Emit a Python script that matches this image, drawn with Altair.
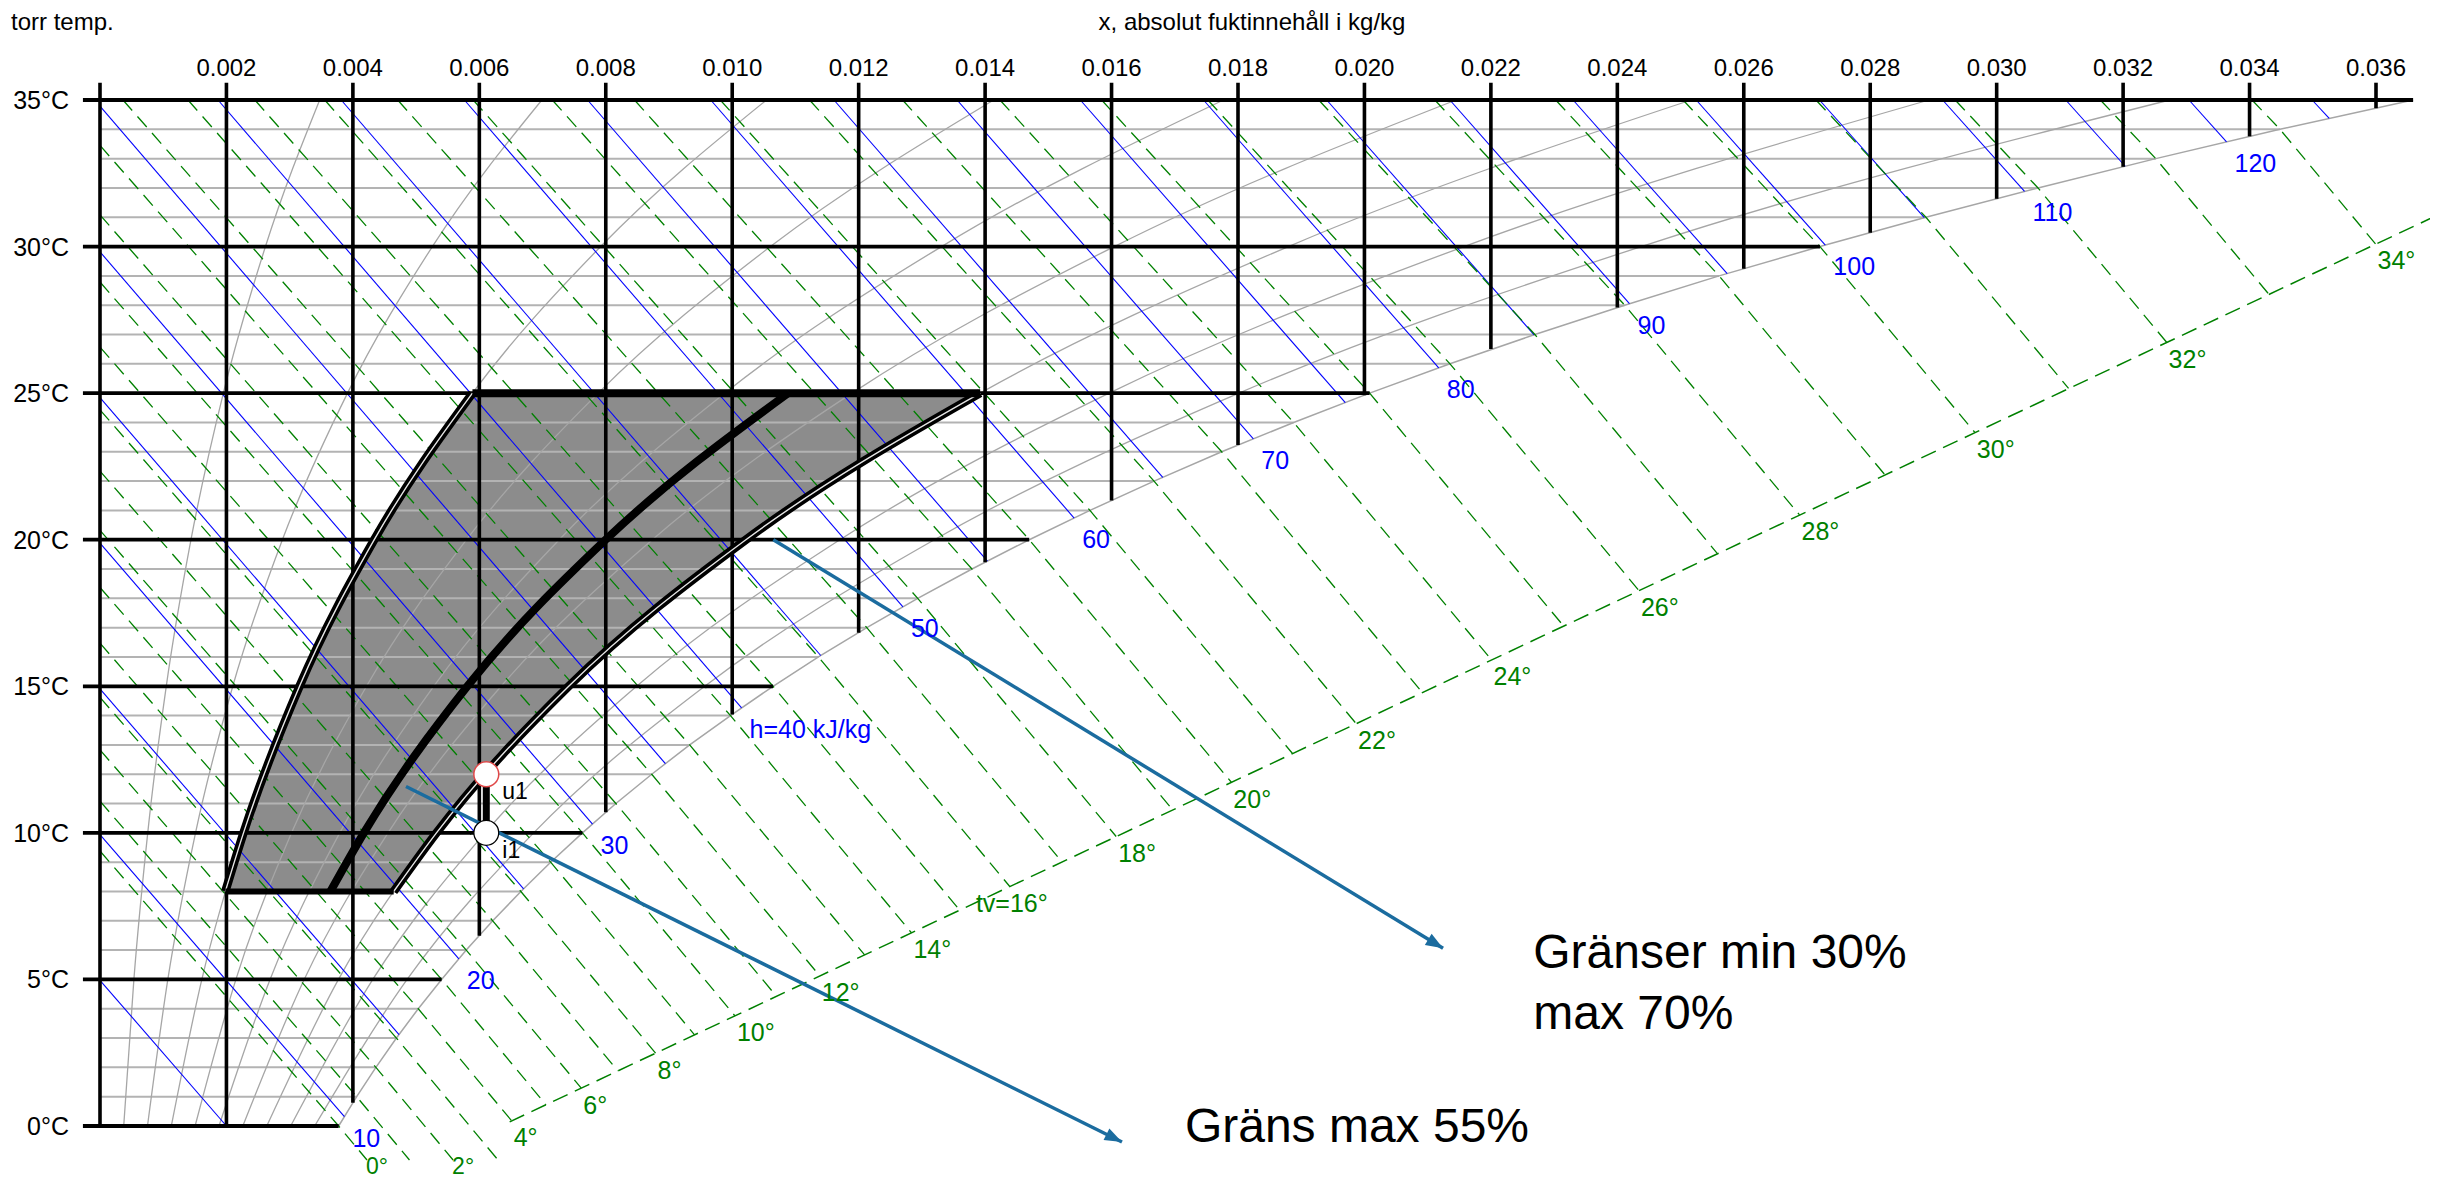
import math
import pandas as pd
import altair as alt

# ------------------------------------------------------------------ data
# saturation line: absolute humidity x (kg/kg) at each dry-bulb temperature
T_SAT = list(range(36))
X_SAT = [0.003775, 0.004060, 0.004364, 0.004689, 0.005034, 0.005403, 0.005793, 0.006212,
         0.006657, 0.007128, 0.007631, 0.008160, 0.008727, 0.009327, 0.009973, 0.010646,
         0.011364, 0.012129, 0.012934, 0.013792, 0.014698, 0.015658, 0.016672, 0.017742,
         0.018880, 0.020082, 0.021353, 0.022696, 0.024117, 0.025610, 0.027205, 0.028881,
         0.030654, 0.032517, 0.034481, 0.036587]

# relative humidity curves, x at T = 0,5,...,35
T_RH = [0, 5, 10, 15, 20, 25, 30, 35]
RH_LEVELS = [10, 20, 30, 40, 50, 60, 70, 80, 90]
X_RH10 = [0.000375, 0.000536, 0.000755, 0.001048, 0.001439, 0.001951, 0.002617, 0.003475]
X_RH20 = [0.000751, 0.001073, 0.001511, 0.002100, 0.002885, 0.003915, 0.005257, 0.006989]
X_RH30 = [0.001128, 0.001611, 0.002270, 0.003156, 0.004338, 0.005891, 0.007919, 0.010542]
X_RH40 = [0.001504, 0.002150, 0.003030, 0.004215, 0.005797, 0.007880, 0.010604, 0.014136]
X_RH50 = [0.001882, 0.002690, 0.003792, 0.005278, 0.007263, 0.009881, 0.013311, 0.017771]
X_RH60 = [0.002259, 0.003230, 0.004556, 0.006344, 0.008736, 0.011895, 0.016042, 0.021448]
X_RH70 = [0.002638, 0.003772, 0.005322, 0.007414, 0.010216, 0.013922, 0.018797, 0.025167]
X_RH80 = [0.003016, 0.004315, 0.006090, 0.008487, 0.011703, 0.015962, 0.021575, 0.028929]
X_RH90 = [0.003395, 0.004858, 0.006859, 0.009565, 0.013197, 0.018015, 0.024377, 0.032736]

# grid
T_MAJOR = [0, 5, 10, 15, 20, 25, 30, 35]
Y_LABELS = ["0°C", "5°C", "10°C", "15°C", "20°C", "25°C", "30°C", "35°C"]
X_GRID = [0.000, 0.002, 0.004, 0.006, 0.008, 0.010, 0.012, 0.014, 0.016, 0.018,
          0.020, 0.022, 0.024, 0.026, 0.028, 0.030, 0.032, 0.034, 0.036]
X_GRID_BOTTOM_T = [0, 0, 0.79, 6.49, 10.70, 14.04, 16.83, 19.23, 21.34, 23.23,
                   24.93, 26.51, 27.92, 29.24, 30.47, 31.63, 32.72, 33.76, 34.72]
X_TICK_LABELS = ["0.002", "0.004", "0.006", "0.008", "0.010", "0.012", "0.014", "0.016",
                 "0.018", "0.020", "0.022", "0.024", "0.026", "0.028", "0.030", "0.032",
                 "0.034", "0.036"]
TICK_EXT_T = 35.59
TICK_EXT_X = -0.00027

# enthalpy lines (kJ/kg): upper-left end and lower-right end
H_VALUES = [5, 10, 15, 20, 25, 30, 35, 40, 45, 50, 55, 60, 65, 70, 75, 80, 85, 90, 95,
            100, 105, 110, 115, 120, 125]
H_X1 = [0, 0, 0, 0, 0, 0, 0, 0.001867, 0.003815, 0.005764, 0.007712, 0.009660, 0.011609,
        0.013557, 0.015506, 0.017454, 0.019403, 0.021351, 0.023300, 0.025248, 0.027197,
        0.029145, 0.031093, 0.033042, 0.034990]
H_T1 = [4.97, 9.94, 14.91, 19.88, 24.85, 29.82, 34.79] + [35] * 18
H_X2 = [0.002000, 0.003866, 0.004730, 0.005676, 0.006700, 0.007790, 0.008943, 0.010148,
        0.011400, 0.012700, 0.014037, 0.015408, 0.016810, 0.018243, 0.019697, 0.021175,
        0.022683, 0.024192, 0.025738, 0.027290, 0.028856, 0.030441, 0.032033, 0.033636,
        0.035260]
H_T2 = [0, 0.32, 3.12, 5.70, 8.09, 10.30, 12.36, 14.26, 16.05, 17.71, 19.27, 20.74, 22.13,
        23.44, 24.68, 25.86, 26.99, 28.05, 29.08, 30.05, 30.99, 31.88, 32.74, 33.57, 34.37]
H_LABEL_VALUES = [10, 20, 30, 40, 50, 60, 70, 80, 90, 100, 110, 120]
H_LABEL_TEXTS = ["10", "20", "30", "h=40 kJ/kg", "50", "60", "70", "80", "90", "100",
                 "110", "120"]

# wet-bulb lines (°C): start, (saturation point), end on the tv scale
TW_VALUES = list(range(35))
TW_X1 = [0] * 13 + [0.000363, 0.001392, 0.002450, 0.003555, 0.004709, 0.005903, 0.007154,
                    0.008454, 0.009811, 0.011223, 0.012694, 0.014235, 0.015843, 0.017523,
                    0.019277, 0.021114, 0.023025, 0.025040, 0.027142, 0.029344, 0.031640,
                    0.034039]
TW_T1 = [9.38, 11.08, 12.83, 14.62, 16.47, 18.37, 20.32, 22.34, 24.43, 26.57, 28.79, 31.08,
         33.45] + [35] * 22
TW_X2 = [0.004223, 0.004895, 0.005585, 0.006296, 0.006512, 0.007054, 0.007612, 0.008191,
         0.008788, 0.009404, 0.010043, 0.010700, 0.011385, 0.012094, 0.012835, 0.013597,
         0.014390, 0.015217, 0.016073, 0.016967, 0.017895, 0.018862, 0.019868, 0.020914,
         0.022010, 0.023150, 0.024341, 0.025583, 0.026882, 0.028232, 0.029655, 0.031137,
         0.032688, 0.034304, 0.035992]
TW_T2 = [-1.16, -1.16, -1.16, -1.16, 0.175, 0.725, 1.292, 1.879, 2.485, 3.110, 3.758, 4.425,
         5.120, 5.839, 6.591, 7.364, 8.169, 9.008, 9.877, 10.784, 11.726, 12.707, 13.728,
         14.789, 15.901, 17.058, 18.267, 19.527, 20.845, 22.215, 23.659, 25.163, 26.737,
         28.377, 30.090]
TW_LABEL_VALUES = [0, 2, 4, 6, 8, 10, 12, 14, 16, 18, 20, 22, 24, 26, 28, 30, 32, 34]
TW_LABEL_TEXTS = ["0°", "2°", "4°", "6°", "8°", "10°", "12°", "14°", "tv=16°", "18°", "20°",
                  "22°", "24°", "26°", "28°", "30°", "32°", "34°"]
SCALE_X = [0.00648, 0.0370]
SCALE_T = [0.143, 31.1]

# comfort region (30 % .. 70 %, 8..25 °C) and the 55 % limit
REGION_T = [8, 10, 15, 20, 25]
REGION_X30 = [0.001982, 0.002270, 0.003156, 0.004338, 0.005891]
REGION_X55 = [0.003644, 0.004174, 0.005810, 0.007999, 0.010887]
REGION_X70 = [0.004645, 0.005322, 0.007414, 0.010216, 0.013922]

# states
POINT_NAMES = ["u1", "i1"]
POINT_X = [0.00611, 0.00611]
POINT_T = [12.0, 10.0]

# annotations
ARROW_X1 = [0.00484, 0.01065]
ARROW_T1 = [11.58, 20.0]
ARROW_X2 = [0.016165, 0.021243]
ARROW_T2 = [-0.546, 6.06]
NOTE_TEXT = ["Gräns max 55%", "Gränser min 30%", "max 70%"]
NOTE_X = [0.01716, 0.02267, 0.02267]
NOTE_T = [-0.55, 5.40, 3.31]

TITLE = "x, absolut fuktinnehåll i kg/kg"
Y_TITLE = "torr temp."

# ------------------------------------------------------------------ chart
W, H = 2276, 1026
X_DOMAIN = [0.0, 0.036]
T_DOMAIN = [0.0, 35.0]
FONT = "Liberation Sans"
GREEN = "#008000"
BLUE = "#0000ff"
ARROW = "#1b6c9f"

xs = alt.Scale(domain=X_DOMAIN, nice=False, zero=False)
ys = alt.Scale(domain=T_DOMAIN, nice=False, zero=False)


def ex(f):
    return alt.X(f"{f}:Q", scale=xs, axis=None)


def ey(f):
    return alt.Y(f"{f}:Q", scale=ys, axis=None)


layers = []

region_df = pd.DataFrame({"t": REGION_T, "x30": REGION_X30, "x55": REGION_X55, "x70": REGION_X70})
layers.append(alt.Chart(region_df).mark_area(color="#8c8c8c", opacity=1, interpolate="monotone",
                                              orient="horizontal")
              .encode(y=ey("t"), x=ex("x30"), x2=alt.X2("x70")))

minor_T = [t for t in T_SAT if t % 5 != 0]
minor_df = pd.DataFrame({"t": minor_T, "x0": [X_DOMAIN[0]] * len(minor_T),
                         "xe": [X_SAT[t] for t in minor_T]})
layers.append(alt.Chart(minor_df).mark_rule(color="#b3b3b3", strokeWidth=2)
              .encode(y=ey("t"), x=ex("x0"), x2=alt.X2("xe")))

rh_rows = []
for lvl, arr in zip(RH_LEVELS, [X_RH10, X_RH20, X_RH30, X_RH40, X_RH50, X_RH60, X_RH70, X_RH80, X_RH90]):
    for t, x in zip(T_RH, arr):
        rh_rows.append({"rh": lvl, "t": t, "x": x})
layers.append(alt.Chart(pd.DataFrame(rh_rows)).mark_line(color="#a6a6a6", strokeWidth=1.3,
                                                          interpolate="monotone")
              .encode(x=ex("x"), y=ey("t"), detail="rh:N", order="t:Q"))
layers.append(alt.Chart(pd.DataFrame({"t": T_SAT, "x": X_SAT})).mark_line(color="#a6a6a6", strokeWidth=1.5)
              .encode(x=ex("x"), y=ey("t"), order="t:Q"))

h_df = pd.DataFrame({"h": H_VALUES, "x1": H_X1, "t1": H_T1, "x2": H_X2, "t2": H_T2})
layers.append(alt.Chart(h_df).mark_rule(color=BLUE, strokeWidth=1.1)
              .encode(x=ex("x1"), y=ey("t1"), x2=alt.X2("x2"), y2=alt.Y2("t2")))

wb_rows = []
for i, tw in enumerate(TW_VALUES):
    wb_rows.append({"tw": tw, "k": 0, "x": TW_X1[i], "t": TW_T1[i]})
    wb_rows.append({"tw": tw, "k": 1, "x": X_SAT[tw], "t": tw})
    wb_rows.append({"tw": tw, "k": 2, "x": TW_X2[i], "t": TW_T2[i]})
layers.append(alt.Chart(pd.DataFrame(wb_rows)).mark_line(color=GREEN, strokeWidth=1.3, strokeDash=[14, 8])
              .encode(x=ex("x"), y=ey("t"), detail="tw:N", order="k:Q"))
layers.append(alt.Chart(pd.DataFrame({"x": SCALE_X, "t": SCALE_T})).mark_line(color=GREEN, strokeWidth=1.5,
                                                                               strokeDash=[16, 8])
              .encode(x=ex("x"), y=ey("t")))

vg_df = pd.DataFrame({"x": X_GRID, "ttop": [TICK_EXT_T] * len(X_GRID), "tbot": X_GRID_BOTTOM_T})
layers.append(alt.Chart(vg_df).mark_rule(color="black", strokeWidth=3.6)
              .encode(x=ex("x"), y=ey("ttop"), y2=alt.Y2("tbot")))
hg_df = pd.DataFrame({"t": T_MAJOR, "xl": [TICK_EXT_X] * len(T_MAJOR), "xr": [X_SAT[t] for t in T_MAJOR]})
layers.append(alt.Chart(hg_df).mark_rule(color="black", strokeWidth=3.8)
              .encode(y=ey("t"), x=ex("xl"), x2=alt.X2("xr")))

edge_rows = []
for side, arr in (("lo", REGION_X30), ("hi", REGION_X70)):
    for t, x in zip(REGION_T, arr):
        edge_rows.append({"side": side, "t": t, "x": x})
edge_df = pd.DataFrame(edge_rows)
layers.append(alt.Chart(edge_df).mark_line(color="black", strokeWidth=8.5, interpolate="monotone")
              .encode(x=ex("x"), y=ey("t"), detail="side:N", order="t:Q"))
layers.append(alt.Chart(edge_df).mark_line(color="#e6e6e6", strokeWidth=1.4, interpolate="monotone")
              .encode(x=ex("x"), y=ey("t"), detail="side:N", order="t:Q"))
layers.append(alt.Chart(region_df).mark_line(color="black", strokeWidth=8, interpolate="monotone")
              .encode(x=ex("x55"), y=ey("t"), order="t:Q"))
cap_df = pd.DataFrame({"t": [REGION_T[-1], REGION_T[0]], "xa": [REGION_X30[-1], REGION_X30[0]],
                       "xb": [REGION_X70[-1], REGION_X70[0]], "w": ["top", "bottom"]})
layers.append(alt.Chart(cap_df).transform_filter(alt.datum.w == "top").mark_rule(color="black", strokeWidth=8)
              .encode(y=ey("t"), x=ex("xa"), x2=alt.X2("xb")))
layers.append(alt.Chart(cap_df).transform_filter(alt.datum.w == "bottom").mark_rule(color="black", strokeWidth=6)
              .encode(y=ey("t"), x=ex("xa"), x2=alt.X2("xb")))

arrow_df = pd.DataFrame({"x1": ARROW_X1, "t1": ARROW_T1, "x2": ARROW_X2, "t2": ARROW_T2})
sx = W / (X_DOMAIN[1] - X_DOMAIN[0])
sy = H / (T_DOMAIN[1] - T_DOMAIN[0])
arrow_df["ang"] = [math.degrees(math.atan2((a - b) * sy, (d - c) * sx))
                   for a, b, c, d in zip(ARROW_T1, ARROW_T2, ARROW_X1, ARROW_X2)]
layers.append(alt.Chart(arrow_df).mark_rule(color=ARROW, strokeWidth=3.5)
              .encode(x=ex("x1"), y=ey("t1"), x2=alt.X2("x2"), y2=alt.Y2("t2")))
layers.append(alt.Chart(arrow_df).mark_point(shape="M0,0L-2,-0.75L-2,0.75Z", filled=True, color=ARROW,
                                             size=300, opacity=1)
              .encode(x=ex("x2"), y=ey("t2"), angle=alt.Angle("ang:Q", scale=None)))

pts_df = pd.DataFrame({"name": POINT_NAMES, "x": POINT_X, "t": POINT_T})
conn_df = pd.DataFrame({"x": [POINT_X[0]], "ta": [POINT_T[0]], "tb": [POINT_T[1]]})
layers.append(alt.Chart(conn_df).mark_rule(color="black", strokeWidth=7)
              .encode(x=ex("x"), y=ey("ta"), y2=alt.Y2("tb")))
layers.append(alt.Chart(pts_df).transform_filter(alt.datum.name == "u1")
              .mark_circle(fill="white", stroke="#e04848", strokeWidth=1.5, size=620, opacity=1)
              .encode(x=ex("x"), y=ey("t")))
layers.append(alt.Chart(pts_df).transform_filter(alt.datum.name == "i1")
              .mark_circle(fill="white", stroke="black", strokeWidth=1.3, size=620, opacity=1)
              .encode(x=ex("x"), y=ey("t")))
layers.append(alt.Chart(pts_df).mark_text(font=FONT, fontSize=23, align="left", dx=16, dy=25, baseline="alphabetic",
                                          color="black")
              .encode(x=ex("x"), y=ey("t"), text="name:N"))

# ---- texts
tick_df = pd.DataFrame({"x": X_GRID[1:], "t": [T_DOMAIN[1]] * len(X_TICK_LABELS), "lab": X_TICK_LABELS})
layers.append(alt.Chart(tick_df).mark_text(font=FONT, fontSize=24, align="center", baseline="alphabetic",
                                           dy=-24.5, color="black")
              .encode(x=ex("x"), y=ey("t"), text="lab:N"))
ylab_df = pd.DataFrame({"x": [X_DOMAIN[0]] * len(T_MAJOR), "t": T_MAJOR, "lab": Y_LABELS})
layers.append(alt.Chart(ylab_df).mark_text(font=FONT, fontSize=25, align="right", baseline="alphabetic",
                                           dx=-31, dy=9, color="black")
              .encode(x=ex("x"), y=ey("t"), text="lab:N"))
title_df = pd.DataFrame({"x": [sum(X_DOMAIN) / 2], "t": [T_DOMAIN[1]], "lab": [TITLE]})
layers.append(alt.Chart(title_df).mark_text(font=FONT, fontSize=24, align="center", baseline="alphabetic",
                                            dx=14, dy=-70, color="black")
              .encode(x=ex("x"), y=ey("t"), text="lab:N"))
ytitle_df = pd.DataFrame({"x": [X_DOMAIN[0]], "t": [T_DOMAIN[1]], "lab": [Y_TITLE]})
layers.append(alt.Chart(ytitle_df).mark_text(font=FONT, fontSize=24, align="left", baseline="alphabetic",
                                             dx=-89, dy=-70, color="black")
              .encode(x=ex("x"), y=ey("t"), text="lab:N"))

hl_df = pd.DataFrame({"x": [H_X2[H_VALUES.index(v)] for v in H_LABEL_VALUES],
                      "t": [H_T2[H_VALUES.index(v)] for v in H_LABEL_VALUES],
                      "lab": H_LABEL_TEXTS})
layers.append(alt.Chart(hl_df).mark_text(font=FONT, fontSize=25, align="left", baseline="alphabetic",
                                         dx=8, dy=30, color=BLUE)
              .encode(x=ex("x"), y=ey("t"), text="lab:N"))

tl_df = pd.DataFrame({"tw": TW_LABEL_VALUES,
                      "x": [TW_X2[v] for v in TW_LABEL_VALUES],
                      "t": [TW_T2[v] for v in TW_LABEL_VALUES],
                      "lab": TW_LABEL_TEXTS})
layers.append(alt.Chart(tl_df).transform_filter((alt.datum.tw >= 4) & (alt.datum.tw != 16))
              .mark_text(font=FONT, fontSize=25, align="left", baseline="alphabetic", dx=2, dy=25.5, color=GREEN)
              .encode(x=ex("x"), y=ey("t"), text="lab:N"))
layers.append(alt.Chart(tl_df).transform_filter(alt.datum.tw == 16)
              .mark_text(font=FONT, fontSize=25, align="right", baseline="alphabetic", dx=38, dy=25.5, color=GREEN)
              .encode(x=ex("x"), y=ey("t"), text="lab:N"))
layers.append(alt.Chart(tl_df).transform_filter(alt.datum.tw < 4)
              .mark_text(font=FONT, fontSize=23, align="left", baseline="alphabetic", dx=-1, dy=14, color=GREEN)
              .encode(x=ex("x"), y=ey("t"), text="lab:N"))

note_df = pd.DataFrame({"x": NOTE_X, "t": NOTE_T, "lab": NOTE_TEXT})
layers.append(alt.Chart(note_df).mark_text(font=FONT, fontSize=48, align="left", baseline="alphabetic",
                                           color="black")
              .encode(x=ex("x"), y=ey("t"), text="lab:N"))

chart = (alt.layer(*layers)
         .properties(width=W, height=H,
                     autosize=alt.AutoSizeParams(type="none"),
                     padding={"left": 92, "top": 92, "right": 54, "bottom": 54},
                     background="white")
         .configure_view(stroke=None))

chart.save("out.html", embed_options={"renderer": "svg", "actions": False})
